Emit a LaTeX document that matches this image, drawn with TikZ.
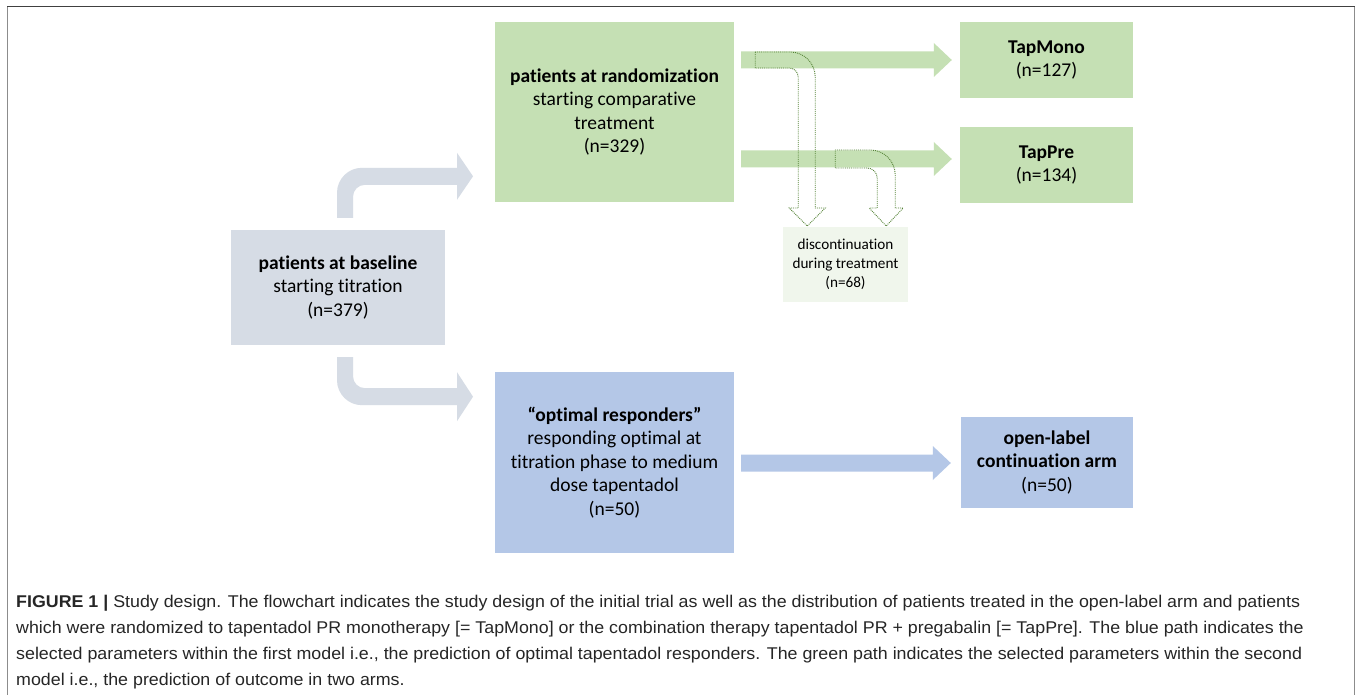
\documentclass[tikz,border=0pt]{standalone}
\usepackage{fontspec}
\setmainfont{Liberation Sans}
\newfontfamily\boxfont[Ligatures=NoCommon]{Carlito}
\usetikzlibrary{calc}
\definecolor{greybox}{HTML}{D6DCE5}
\definecolor{greenbox}{HTML}{C5E0B4}
\definecolor{bluebox}{HTML}{B4C7E7}
\definecolor{discbox}{HTML}{F0F6EC}
\definecolor{dotgreen}{HTML}{548235}
\definecolor{framegrey}{HTML}{8C8C8C}
\definecolor{frametop}{HTML}{404040}
\definecolor{captext}{HTML}{262626}
\newlength\capw
\newcommand\capfont{\fontsize{17}{20}\selectfont}
\newcommand\capone{\textbf{FIGURE 1 |} Study design. The flowchart indicates the study design of the initial trial as well as the distribution of patients treated in the open-label arm and patients}
\newcommand\hblock[3]{\fill[#3] ($#1+(0,-8.5)$) -- ($#2+(-18,-8.5)$) -- ($#2+(-18,-17)$) -- #2 -- ($#2+(-18,17)$) -- ($#2+(-18,8.5)$) -- ($#1+(0,8.5)$) -- cycle;}
\tikzset{
  box/.style={inner sep=0pt, align=center, text=black, font=\boxfont\fontsize{19.5}{23.5}\selectfont},
  smallbox/.style={inner sep=0pt, align=center, text=black, font=\boxfont\fontsize{15.2}{19}\selectfont},
  dotarrow/.style={draw=dotgreen, densely dotted, line width=0.9pt},
  capline/.style={anchor=base west, inner sep=0pt, text=captext, font=\capfont}
}
\begin{document}
\settowidth\capw{\capfont\capone}
\pgfmathsetmacro\capscale{1284/\capw}
\begin{tikzpicture}[x=1pt,y=-1pt]
\useasboundingbox (0,0) rectangle (1358,695);
\fill[white] (0,0) rectangle (1358,695);
% frame
\draw[framegrey, line width=1pt] (7.5,695) -- (7.5,6.5) -- (1354.5,6.5) -- (1354.5,695);
\draw[frametop, line width=1.3pt] (7,6.5) -- (1355,6.5);
% boxes
\node[box, fill=greybox, minimum width=214pt, minimum height=115pt] (base) at (338,287.5) {\textbf{patients at baseline}\\starting titration\\(n=379)};
\node[box, fill=greenbox, minimum width=239pt, minimum height=180pt] (rand) at (614.5,112) {\textbf{patients at randomization}\\starting comparative\\treatment\\(n=329)};
\node[box, fill=greenbox, minimum width=173pt, minimum height=76pt] (mono) at (1046.5,60) {\textbf{TapMono}\\(n=127)};
\node[box, fill=greenbox, minimum width=173pt, minimum height=76pt] (pre) at (1046.5,165) {\textbf{TapPre}\\(n=134)};
\node[smallbox, fill=discbox, minimum width=125pt, minimum height=75pt] (disc) at (845.5,264.5) {discontinuation\\during treatment\\(n=68)};
\node[box, fill=bluebox, minimum width=239pt, minimum height=181pt] (opt) at (614.5,462.5) {\textbf{“optimal responders”}\\responding optimal at\\titration phase to medium\\dose tapentadol\\(n=50)};
\node[box, fill=bluebox, minimum width=172pt, minimum height=91pt] (open) at (1047,462.5) {\textbf{open-label}\\\textbf{continuation arm}\\(n=50)};
% grey elbow arrows
\fill[greybox] ($(base.north)+(-1,-12)$) -- ++(0,-25) .. controls +(0,-13.8) and +(-13.8,0) .. ++(25,-25) -- ++(95,0) -- ++(0,-15) -- ++(16,23.5) -- ++(-16,23.5) -- ++(0,-15) -- ++(-92,0) .. controls +(-6.6,0) and +(0,-6.6) .. ++(-12,12) -- ++(0,21) -- cycle;
\fill[greybox] ($(base.south)+(-1,12)$) -- ++(0,23) .. controls +(0,13.8) and +(-13.8,0) .. ++(25,25) -- ++(95,0) -- ++(0,16) -- ++(16,-24.5) -- ++(-16,-24.5) -- ++(0,16) -- ++(-92,0) .. controls +(-6.6,0) and +(0,6.6) .. ++(-12,-12) -- ++(0,-19) -- cycle;
% straight block arrows
\coordinate (g1s) at ($(rand.east|-mono.west)+(7,0)$);
\coordinate (g1t) at ($(mono.west)+(-8,0)$);
\coordinate (g2s) at ($(rand.east|-pre.west)+(7,-6)$);
\coordinate (g2t) at ($(pre.west)+(-8,-6)$);
\coordinate (bs) at ($(opt.east)+(7,0.5)$);
\coordinate (bt) at ($(open.west)+(-10,0.5)$);
\hblock{(g1s)}{(g1t)}{greenbox}
\hblock{(g2s)}{(g2t)}{greenbox}
\hblock{(bs)}{(bt)}{bluebox}
% dotted discontinuation arrows
\draw[dotarrow] ($(g1s)+(14,-8)$) -- ++(35,0) .. controls +(13.8,0) and +(0,-13.8) .. ++(25,25) -- ++(0,131) -- ++(10,0) -- ++(-18,18) -- ++(-18,-18) -- ++(9,0) -- ++(0,-131) .. controls +(0,-5) and +(5,0) .. ++(-9,-9) -- ++(-34,0) -- cycle;
\draw[dotarrow] ($(g2s)+(94,-9)$) -- ++(35,0) .. controls +(13.8,0) and +(0,-13.8) .. ++(25,25) -- ++(0,33) -- ++(8,0) -- ++(-17,18) -- ++(-17,-18) -- ++(8,0) -- ++(0,-30) .. controls +(0,-5.5) and +(5.5,0) .. ++(-10,-10) -- ++(-32,0) -- cycle;
% caption
\node[capline] (cap1) at (16,607) {\scalebox{\capscale}[1]{\capone}};
\node[capline] (cap2) at (16,633) {\scalebox{\capscale}[1]{which were randomized to tapentadol PR monotherapy [= TapMono] or the combination therapy tapentadol PR + pregabalin [= TapPre]. The blue path indicates the}};
\node[capline] (cap3) at (16,659) {\scalebox{\capscale}[1]{selected parameters within the first model i.e., the prediction of optimal tapentadol responders. The green path indicates the selected parameters within the second}};
\node[capline] (cap4) at (16,685) {\scalebox{\capscale}[1]{model i.e., the prediction of outcome in two arms.}};
\end{tikzpicture}
\end{document}
